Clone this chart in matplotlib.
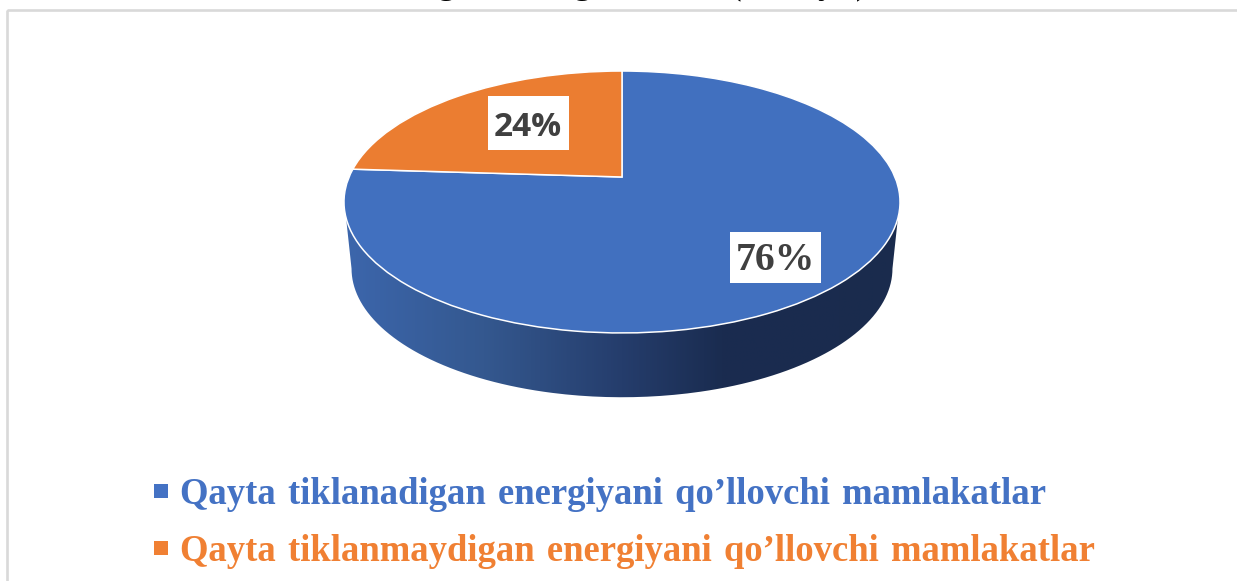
import numpy as np
import matplotlib
matplotlib.use("Agg")
import matplotlib.pyplot as plt
from matplotlib.colors import LinearSegmentedColormap
from matplotlib.lines import Line2D
from matplotlib.patches import PathPatch, Rectangle
from matplotlib.path import Path
from matplotlib.transforms import Transform

# ---- data ----
categories = ["Qayta\u2004tiklanadigan\u2004energiyani\u2004qo’llovchi\u2004mamlakatlar",
              "Qayta\u2004tiklanmaydigan\u2004energiyani\u2004qo’llovchi\u2004mamlakatlar"]
shares = [76, 24]
share_labels = ["76%", "24%"]
slice_colors = ["#4170BF", "#EB7D31"]
legend_colors = ["#4472C4", "#F08033"]

W, H = 1237, 581
fig = plt.figure(figsize=(W / 100, H / 100), dpi=100, facecolor="white")
ax = fig.add_axes([0, 0, 1, 1])


class Tilt(Transform):
    """Perspective view of the unit pie, onto the picture's pixel frame."""
    input_dims = output_dims = 2
    has_inverse = False

    def __init__(self, cx, cy, a, b, k):
        super().__init__()
        self.p = (cx, cy, a, b, k)

    def transform_non_affine(self, xy):
        cx, cy, a, b, k = self.p
        xy = np.asarray(xy, float)
        d = 1 + k * xy[:, 1]
        return np.column_stack([cx + a * xy[:, 0] / d, cy - b * xy[:, 1] / d])


K = 0.1908
top_disc = Tilt(622, 177, 272.9, 126.2, K)
bottom_disc = Tilt(622, 244, 265.5, 124.0, K)

# pie slices, clockwise from twelve o'clock, then tilted into perspective
wedges, _ = ax.pie(shares, colors=slice_colors, startangle=90, counterclock=False, radius=1)
for w, c in zip(wedges, slice_colors):
    unit_path = w.get_patch_transform().transform_path(w.get_path())
    w.set_visible(False)
    ax.add_patch(PathPatch(Path(top_disc.transform_non_affine(unit_path.vertices), unit_path.codes),
                           fc=c, ec="white", lw=1.1, zorder=5, clip_on=False))

# side wall with horizontal gradient
a_low = np.arcsin(K)
t = np.linspace(np.pi + a_low, 2 * np.pi - a_low, 200)
low = bottom_disc.transform_non_affine(np.column_stack([np.cos(t), np.sin(t)]))
a_up = np.arcsin(0.306)
up = top_disc.transform_non_affine(np.array([[-np.cos(a_up), -np.sin(a_up)],
                                             [np.cos(a_up), -np.sin(a_up)]]))
wall = np.vstack([up[0], low, up[1], up[0]])
cmap = LinearSegmentedColormap.from_list(
    "wall", [(0.0, "#3C66AC"), (0.25, "#34588F"), (0.5, "#253D6C"),
             (0.68, "#1A2C50"), (1.0, "#1A2B4D")])
grad = np.linspace(0, 1, 512).reshape(1, -1)
im = ax.imshow(grad, cmap=cmap, extent=(345, 899, 400, 200), aspect="auto", zorder=2)
im.set_clip_path(PathPatch(Path(wall), transform=ax.transData))

# share labels on white boxes
ax.add_patch(Rectangle((730, 232), 91, 51, fc="white", ec="none", zorder=6))
ax.add_patch(Rectangle((488, 96), 81, 54, fc="white", ec="none", zorder=6))
ax.text(775.5, 261, share_labels[0], family="Liberation Serif", weight="bold", fontsize=28.5,
        color="#404040", ha="center", va="center", zorder=7)
ax.text(528, 127.5, share_labels[1], family="Open Sans", weight="bold", fontsize=24,
        color="#404040", ha="center", va="center", zorder=7)

# legend
handles = [Line2D([], [], ls="none", marker="s", ms=10.3, mew=0, color=c) for c in legend_colors]
leg = ax.legend(handles, categories, loc="upper left", bbox_to_anchor=(143, 476.5),
                bbox_transform=ax.transData, frameon=False, handlelength=1.0, handletextpad=0.0,
                labelspacing=0.62, borderpad=0, borderaxespad=0,
                prop=dict(family="Liberation Serif", weight="bold", size=26.4))
for txt, c in zip(leg.get_texts(), legend_colors):
    txt.set_color(c)

# frame of the chart area
ax.add_patch(Rectangle((7, 10), W, H, fc="none", ec="#D9D9D9", lw=1.9, zorder=1))

# the foot of the cropped title line
for x, ch in [(446, "g"), (582, "g"), (735, "("), (826, "y"), (862, ")")]:
    ax.text(x, -15.5, ch, family="Liberation Serif", weight="bold", fontsize=25,
            color="black", ha="center", va="center", clip_on=False)

ax.set_aspect("auto")
ax.set_xlim(0, W)
ax.set_ylim(H, 0)
ax.axis("off")
fig.savefig("out.png", dpi=100)
